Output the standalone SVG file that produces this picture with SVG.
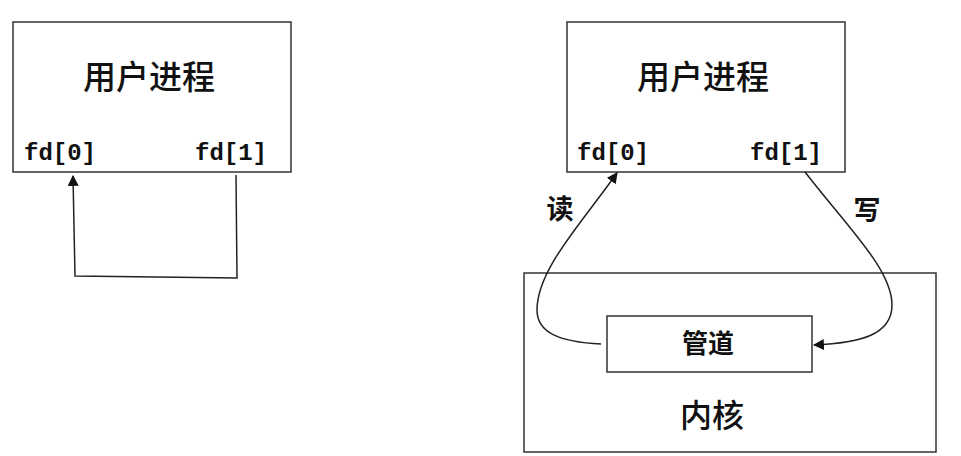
<svg xmlns="http://www.w3.org/2000/svg" width="961" height="456" viewBox="0 0 961 456">
<style>
.box{fill:#fff;stroke:#333;stroke-width:1.5}
.line{fill:none;stroke:#222;stroke-width:1.5}
.title{font-family:"Noto Sans CJK SC","Noto Sans",sans-serif;font-size:33px;font-weight:500;fill:#111;text-anchor:middle}
.fd{font-family:"Liberation Mono","DejaVu Sans Mono",monospace;font-size:24px;font-weight:bold;fill:#111}
.lbl{font-family:"Noto Sans CJK SC",sans-serif;font-size:27px;font-weight:bold;fill:#111;text-anchor:middle}
</style>
<defs>
<marker id="arr" viewBox="0 0 10 10" refX="9" refY="5" markerWidth="11" markerHeight="11" markerUnits="userSpaceOnUse" orient="auto">
<path d="M0,0 L10,5 L0,10 z" fill="#111"/>
</marker>
</defs>
<rect width="961" height="456" fill="#fff"/>
<g id="proc1">
<rect class="box" x="13" y="22" width="278" height="150"/>
<text class="title" x="149" y="89">用户进程</text>
<text class="fd" x="24" y="160">fd[0]</text>
<text class="fd" x="195" y="160">fd[1]</text>
</g>
<g id="proc2">
<rect class="box" x="567" y="22" width="278" height="150"/>
<text class="title" x="703" y="89">用户进程</text>
<text class="fd" x="577" y="160">fd[0]</text>
<text class="fd" x="750" y="160">fd[1]</text>
</g>
<g id="kernel">
<rect class="box" x="524" y="273" width="412" height="179"/>
<text class="title" x="712" y="427" style="font-size:32px">内核</text>
</g>
<g id="pipe">
<rect class="box" x="607" y="316" width="205" height="56"/>
<text class="lbl" x="708" y="353" style="font-size:26px">管道</text>
</g>
<g id="connectors">
<path class="line" d="M601,344 C560,342 537,333 537,310 C537,270 580,225 617,173" marker-end="url(#arr)"/>
<path class="line" d="M805,172 C850,230 892,270 892,305 C892,335 860,343 814,345" marker-end="url(#arr)"/>
<path class="line" d="M236,175 L237,278 L75,276 L73,176" marker-end="url(#arr)"/>
<text class="lbl" x="560" y="219">读</text>
<text class="lbl" x="867" y="220">写</text>
</g>
</svg>
